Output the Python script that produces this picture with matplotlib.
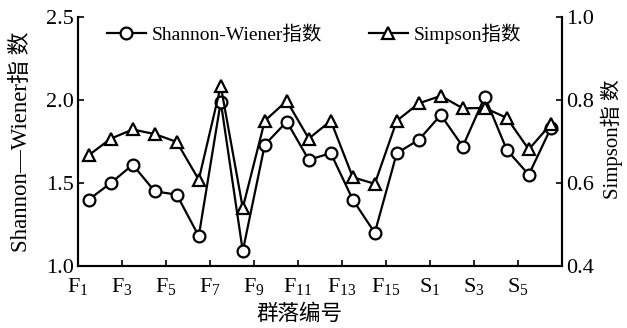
import numpy as np
import matplotlib
matplotlib.use('Agg')
from matplotlib import pyplot as plt

plt.rcParams['font.family'] = ['Liberation Serif', 'Noto Sans CJK SC']
plt.rcParams['mathtext.fontset'] = 'custom'
plt.rcParams['mathtext.rm'] = 'Liberation Serif'
plt.rcParams['mathtext.it'] = 'Liberation Serif'

sites = ['F1', 'F2', 'F3', 'F4', 'F5', 'F6', 'F7', 'F8', 'F9', 'F10', 'F11',
         'F12', 'F13', 'F14', 'F15', 'F16', 'S1', 'S2', 'S3', 'S4', 'S5', 'S6']
shannon = [1.40, 1.50, 1.61, 1.45, 1.43, 1.18, 1.99, 1.09, 1.73, 1.87, 1.64,
           1.68, 1.40, 1.20, 1.68, 1.76, 1.91, 1.72, 2.02, 1.70, 1.55, 1.83]
simpson = [0.667, 0.707, 0.729, 0.718, 0.699, 0.608, 0.834, 0.540, 0.750, 0.798, 0.707,
           0.750, 0.614, 0.598, 0.750, 0.792, 0.810, 0.780, 0.781, 0.757, 0.681, 0.742]
tick_labels = ['F$_{1}$', 'F$_{3}$', 'F$_{5}$', 'F$_{7}$', 'F$_{9}$', 'F$_{11}$',
               'F$_{13}$', 'F$_{15}$', 'S$_{1}$', 'S$_{3}$', 'S$_{5}$']

x = np.arange(len(sites)) + 0.5

fig = plt.figure(figsize=(6.27, 3.28), dpi=100)
ax = fig.add_axes([0.124, 0.189, 0.772, 0.759])
ax2 = ax.twinx()

l1, = ax.plot(x, shannon, color='black', lw=1.6, marker='o', ms=8.5,
              mfc='white', mec='black', mew=1.6, label='Shannon-Wiener指数')
l2, = ax2.plot(x, simpson, color='black', lw=1.6, marker='^', ms=8.5,
               mfc='white', mec='black', mew=1.6, label='Simpson指数')

ax.set_xlim(0, 22)
ax.set_ylim(1.0, 2.5)
ax2.set_ylim(0.4, 1.0)
ax.set_xticks(np.arange(0, 22, 2))
ax.set_xticklabels(tick_labels)
ax.set_yticks([1.0, 1.5, 2.0, 2.5])
ax2.set_yticks([0.4, 0.6, 0.8, 1.0])

for a in (ax, ax2):
    a.spines['top'].set_visible(False)
    a.spines['left'].set_linewidth(1.5)
    a.spines['right'].set_linewidth(1.5)
    a.spines['bottom'].set_linewidth(1.5)
    a.tick_params(direction='in', length=4, width=1.2, labelsize=16, pad=3)
ax.tick_params(axis='x', pad=7)

ax.set_ylabel('Shannon—Wiener指 数', fontsize=16.5)
ax.yaxis.set_label_coords(-0.095, 0.5)
ax2.set_ylabel('Simpson指 数', fontsize=15)
ax2.yaxis.set_label_coords(1.081, 0.51)
ax.set_xlabel('群落编号', fontsize=15.5)
ax.xaxis.set_label_coords(0.457, -0.155)

ax.legend([l1, l2], ['Shannon-Wiener指数', 'Simpson指数'], loc='upper center',
          bbox_to_anchor=(0.488, 1.045), ncol=2, frameon=False, fontsize=14,
          handlelength=2.0, columnspacing=2.4, handletextpad=0.3)

fig.savefig('out.png', dpi=100)
